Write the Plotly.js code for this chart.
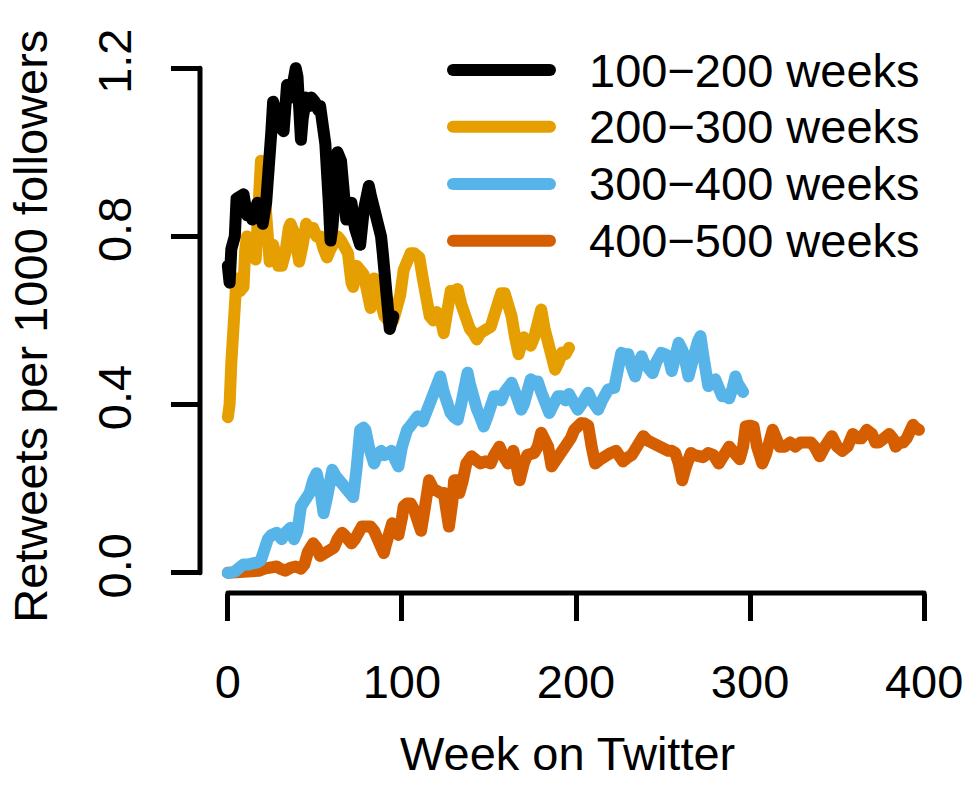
<!DOCTYPE html>
<html>
<head>
<meta charset="utf-8">
<script src="https://cdn.plot.ly/plotly-3.0.1.min.js"></script>
<style>
html, body { margin: 0; padding: 0; background: #fff; }
#chart { width: 969px; height: 794px; }
.scatterlayer .js-line { stroke-linejoin: round !important; stroke-linecap: round !important; }
.shapelayer path { stroke-linecap: round !important; stroke-linejoin: round !important; }
</style>
</head>
<body>
<div id="chart"></div>
<script>
// ---- data ----
const seriesNames = ["100\u2212200 weeks", "200\u2212300 weeks", "300\u2212400 weeks", "400\u2212500 weeks"];
const seriesColors = ["#000000", "#E69F00", "#56B4E9", "#D55E00"];

const weeks100 = [0,1,2,4,5,7,9,11,13,14,16,17,19,20,22,23,25,26,27,28,30,32,33,34,36,38,39,40,41,42,43,45,47,48,50,52,53,55,56,58,59,60,62,63,65,67,68,70,71,73,76,78,80,81,82,84,86,88,89,90,92,93,95];
const rt100 = [0.73,0.69,0.77,0.80,0.89,0.90,0.90,0.85,0.86,0.84,0.87,0.88,0.86,0.83,0.88,0.92,1.05,1.12,1.10,1.08,1.06,1.05,1.12,1.16,1.13,1.18,1.20,1.18,1.10,1.03,1.08,1.13,1.11,1.13,1.12,1.10,1.11,1.05,1.02,0.88,0.79,0.82,0.92,1.00,0.98,0.90,0.84,0.87,0.88,0.82,0.78,0.86,0.90,0.92,0.90,0.87,0.83,0.80,0.76,0.70,0.62,0.58,0.61];

const weeks200 = [0,1,2,3,4,5,7,9,10,11,12,14,16,17,18,19,20,21,22,23,24,25,26,27,29,31,33,35,36,38,40,41,43,45,47,49,51,53,55,57,59,61,63,65,67,69,71,72,74,76,78,80,82,84,86,88,90,92,95,97,99,101,103,105,107,110,112,114,116,118,120,122,124,126,128,130,132,134,136,139,141,143,145,147,149,151,153,155,157,159,161,163,165,167,169,170,172,174,176,178,180,182,184,186,188,190,192,194,196];
const rt200 = [0.37,0.40,0.50,0.57,0.63,0.70,0.67,0.68,0.77,0.80,0.76,0.76,0.745,0.85,0.96,0.98,0.97,0.92,0.87,0.80,0.74,0.76,0.78,0.75,0.73,0.73,0.76,0.82,0.83,0.81,0.76,0.74,0.78,0.83,0.81,0.82,0.80,0.80,0.77,0.75,0.77,0.79,0.80,0.79,0.78,0.76,0.69,0.68,0.73,0.72,0.71,0.67,0.63,0.70,0.66,0.63,0.61,0.60,0.60,0.63,0.66,0.72,0.75,0.76,0.76,0.75,0.70,0.64,0.61,0.60,0.62,0.61,0.57,0.62,0.67,0.67,0.675,0.64,0.61,0.58,0.57,0.555,0.57,0.58,0.58,0.585,0.62,0.66,0.665,0.665,0.64,0.61,0.56,0.52,0.55,0.56,0.55,0.54,0.56,0.60,0.626,0.58,0.54,0.50,0.483,0.50,0.524,0.52,0.535];

const weeks300 = [0,2,4,6,9,12,15,17,19,21,23,25,28,30,31,33,36,38,40,42,44,45,47,49,51,53,55,57,59,60,62,64,66,68,70,72,74,75,76,78,79,81,84,86,88,90,92,94,96,98,100,101,103,105,107,109,112,114,116,118,120,122,124,126,128,130,132,134,136,137.7,139,141,143,145,147,149,151,153,155,157,159,161,163,165,167,168.5,170,172,174,176,178,180,182,184.7,187,189.7,192,194,196,198,201,203,205,207,209,211,212.7,215,218.5,222,224,226,228,230,232,234,236,237.7,239,241,244,246,249,251,253,255,257,259,261,262,264.6,266,268,270,271.5,273,274,276,278,280,282,284,286,288,290,291.6,293,294,296];
const rt300 = [0.0,0.0,0.003,0.01,0.02,0.02,0.02,0.025,0.03,0.06,0.08,0.09,0.095,0.085,0.08,0.095,0.107,0.08,0.10,0.158,0.17,0.18,0.19,0.22,0.237,0.20,0.142,0.18,0.23,0.245,0.23,0.22,0.20,0.20,0.19,0.18,0.25,0.32,0.34,0.345,0.34,0.30,0.26,0.28,0.29,0.28,0.285,0.29,0.27,0.253,0.30,0.325,0.34,0.35,0.36,0.372,0.36,0.38,0.40,0.41,0.43,0.467,0.43,0.40,0.38,0.37,0.364,0.40,0.45,0.476,0.45,0.41,0.39,0.37,0.348,0.37,0.40,0.42,0.42,0.41,0.43,0.44,0.452,0.43,0.40,0.388,0.40,0.43,0.46,0.455,0.455,0.43,0.40,0.38,0.40,0.42,0.42,0.41,0.425,0.41,0.388,0.40,0.42,0.428,0.41,0.39,0.388,0.41,0.436,0.44,0.48,0.523,0.52,0.52,0.49,0.467,0.50,0.515,0.50,0.49,0.475,0.50,0.523,0.52,0.515,0.48,0.52,0.547,0.53,0.52,0.467,0.50,0.52,0.55,0.563,0.52,0.49,0.444,0.45,0.46,0.44,0.42,0.42,0.415,0.44,0.467,0.45,0.445,0.43];

const weeks400 = [0,5,9,12,15,18,21,24,26,28,30,33,36,39,42,44,46,48,49,51,53,55,57,59,61,63,65.6,67,69,71,73,75,77,79,82,84,86,88,89.6,91,93,94.4,96,98,100,101,103,105,107,109,111,113,115.6,118,120,122,124,125,127,129,130,132,133,135,137,140,142,145,148,151,153,156,158,161,164,166,167.6,170,172,176,178,180,182,184,186,189,192,195.5,197,199,201,203,205,207,209,211,214,217,220,223,225,227,230,232,235,238.7,241,243,246,249,251,253,255,257,259,261,263,266,268,271,273,276,279,282,285,288,291,294,296,297.5,300,302,304,307,309,311,313,315,317,320,323,326,329,332,335,337,340,343,345,347,350,353,356,359,362,364,367,370,372,374,377,380,382,383.6,386,388,390,392,393.6,395,397];
const rt400 = [0.0,0.0,0.0,0.0,0.0,0.005,0.01,0.012,0.015,0.015,0.01,0.005,0.012,0.015,0.01,0.02,0.05,0.065,0.07,0.06,0.04,0.045,0.05,0.05,0.06,0.08,0.095,0.09,0.08,0.07,0.08,0.10,0.11,0.11,0.11,0.10,0.08,0.06,0.047,0.07,0.10,0.118,0.10,0.09,0.13,0.158,0.165,0.165,0.15,0.12,0.10,0.15,0.22,0.20,0.19,0.19,0.19,0.15,0.11,0.17,0.22,0.22,0.19,0.22,0.26,0.277,0.27,0.26,0.265,0.26,0.28,0.30,0.28,0.26,0.29,0.25,0.22,0.26,0.28,0.285,0.30,0.333,0.32,0.30,0.253,0.27,0.28,0.30,0.32,0.34,0.35,0.356,0.355,0.35,0.30,0.26,0.27,0.28,0.285,0.29,0.28,0.265,0.275,0.28,0.30,0.325,0.315,0.31,0.305,0.30,0.295,0.29,0.29,0.285,0.26,0.22,0.25,0.285,0.28,0.28,0.275,0.285,0.28,0.26,0.28,0.30,0.285,0.27,0.30,0.348,0.35,0.348,0.30,0.26,0.28,0.32,0.34,0.32,0.30,0.30,0.31,0.30,0.31,0.31,0.31,0.30,0.277,0.30,0.31,0.325,0.30,0.29,0.30,0.33,0.32,0.32,0.34,0.33,0.31,0.31,0.32,0.33,0.32,0.30,0.31,0.31,0.32,0.34,0.352,0.345,0.34];

const xTicks = [0, 100, 200, 300, 400];
const yTicks = [0, 0.4, 0.8, 1.2];
const yTickText = ["0.0", "0.4", "0.8", "1.2"];
const xTitle = "Week on Twitter";
const yTitle = "Retweets per 1000 followers";

// ---- build ----
const FONT = "Liberation Sans, Arial, Helvetica, sans-serif";
const FS = 47;
const allX = [weeks100, weeks200, weeks300, weeks400];
const allY = [rt100, rt200, rt300, rt400];

// draw in reverse so that the first series is on top
const traces = [];
for (let i = allX.length - 1; i >= 0; i--) {
  traces.push({
    type: "scatter", mode: "lines",
    x: allX[i], y: allY[i],
    name: seriesNames[i],
    line: { color: seriesColors[i], width: 12 },
    showlegend: false, hoverinfo: "skip"
  });
}

// manual legend (R-style long line samples)
const legY = [0.9596, 0.8556, 0.7505, 0.6464];
const shapes = [
  { type: "line", xref: "x", yref: "paper", x0: xTicks[0], x1: xTicks[xTicks.length - 1], y0: 0, y1: 0, line: { color: "#000", width: 5 } },
  { type: "line", xref: "paper", yref: "y", x0: 0, x1: 0, y0: yTicks[0], y1: yTicks[yTicks.length - 1], line: { color: "#000", width: 5 } }
];
const annotations = [];
seriesNames.forEach((nm, i) => {
  shapes.push({ type: "line", xref: "paper", yref: "paper", x0: 0.3364, x1: 0.4654, y0: legY[i], y1: legY[i], line: { color: seriesColors[i], width: 12 } });
  annotations.push({ xref: "paper", yref: "paper", x: 0.514, y: legY[i], xanchor: "left", yanchor: "middle", text: nm, showarrow: false, font: { family: FONT, size: FS, color: "#000" } });
});
annotations.push({ xref: "paper", yref: "paper", x: 0.489, y: -0.295, xanchor: "center", yanchor: "middle", text: xTitle, showarrow: false, font: { family: FONT, size: FS, color: "#000" } });
annotations.push({ xref: "paper", yref: "paper", x: -0.225, y: 0.49, xanchor: "center", yanchor: "middle", textangle: -90, text: yTitle, showarrow: false, font: { family: FONT, size: FS, color: "#000" } });

const layout = {
  width: 969, height: 794,
  margin: { l: 200, r: 17, t: 48, b: 201 },
  paper_bgcolor: "#fff", plot_bgcolor: "#fff",
  showlegend: false,
  font: { family: FONT, size: FS, color: "#000" },
  xaxis: {
    range: [-16, 416], showgrid: false, zeroline: false, showline: false,
    tickmode: "array", tickvals: xTicks, ticktext: xTicks.map(String),
    ticks: "outside", ticklen: 27, tickwidth: 5, tickcolor: "#000",
    ticklabelstandoff: 21,
    tickfont: { family: FONT, size: FS, color: "#000" }
  },
  yaxis: {
    range: [-0.048, 1.248], showgrid: false, zeroline: false, showline: false,
    tickmode: "array", tickvals: yTicks, ticktext: yTickText,
    ticks: "outside", ticklen: 28, tickwidth: 5, tickcolor: "#000",
    tickangle: -90, ticklabelstandoff: 21,
    tickfont: { family: FONT, size: FS, color: "#000" }
  },
  shapes: shapes,
  annotations: annotations
};

Plotly.newPlot("chart", traces, layout, { staticPlot: true, displayModeBar: false });
</script>
</body>
</html>
